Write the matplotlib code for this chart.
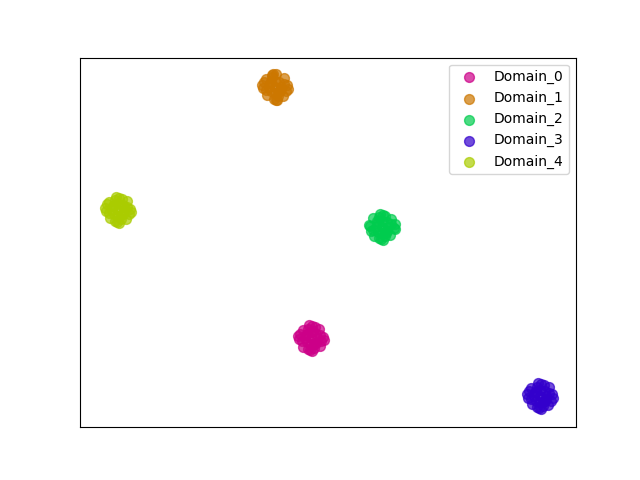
import matplotlib
matplotlib.use('Agg')
from matplotlib import pyplot as plt

labels = ['Domain_0', 'Domain_1', 'Domain_2', 'Domain_3', 'Domain_4']
colors = ['#cc0088', '#cc7700', '#00cc4e', '#3300cc', '#aacc00']

# embedding coordinates per domain
x0 = [31.1, 32.3, 29.9, 31.2, 31.0, 31.9, 30.25, 32.0, 30.3, 31.6, 30.6, 31.4, 30.7, 32.1, 30.0, 31.5, 30.8, 31.3,
      31.7, 30.5, 31.1, 31.1, 31.55, 30.65, 32.0, 30.2, 31.4, 30.8, 32.4, 29.8, 31.2, 30.9]
y0 = [14.2, 14.3, 14.1, 15.4, 13.0, 15.1, 15.0, 13.4, 13.3, 14.6, 14.5, 13.6, 13.8, 13.9, 14.6, 15.3, 13.1, 14.9,
      14.2, 14.2, 14.8, 13.6, 13.75, 14.65, 14.5, 13.9, 13.25, 15.15, 14.0, 14.4, 12.9, 15.5]
x1 = [27.5, 28.7, 26.3, 27.6, 27.4, 28.4, 26.6, 28.3, 26.7, 27.9, 27.0, 27.8, 27.1, 28.6, 26.4, 27.2, 27.7, 28.1,
      28.1, 26.9, 27.5, 27.5, 27.95, 27.05, 28.4, 26.6, 27.8, 27.2, 28.8, 26.2, 27.6, 27.3]
y1 = [39.3, 39.5, 39.2, 40.6, 38.1, 40.2, 40.1, 38.4, 38.5, 39.8, 39.7, 38.8, 38.9, 38.9, 39.8, 40.5, 38.0, 39.1,
      39.3, 39.3, 39.9, 38.7, 38.85, 39.75, 39.6, 39.0, 38.35, 40.25, 39.1, 39.5, 38.0, 40.6]
x2 = [38.2, 39.4, 37.0, 38.3, 38.1, 39.1, 37.3, 39.0, 37.4, 38.7, 37.7, 38.6, 37.8, 39.5, 37.1, 38.5, 37.9, 38.4,
      38.8, 37.6, 38.2, 38.2, 38.65, 37.75, 39.1, 37.3, 38.5, 37.9, 39.5, 36.9, 38.3, 38.0]
y2 = [25.3, 25.2, 25.4, 26.5, 24.1, 26.1, 26.2, 24.5, 24.4, 25.8, 25.9, 24.7, 24.8, 25.6, 24.9, 26.4, 24.2, 25.0,
      25.3, 25.3, 25.9, 24.7, 24.85, 25.75, 25.6, 25.0, 24.35, 26.25, 25.1, 25.5, 24.0, 26.6]
x3 = [54.0, 55.2, 52.8, 54.1, 53.9, 54.9, 53.1, 54.8, 53.2, 54.5, 53.5, 54.3, 53.6, 55.1, 52.9, 54.4, 53.7, 54.6,
      54.6, 53.4, 54.0, 54.0, 54.45, 53.55, 54.9, 53.1, 54.3, 53.7, 55.3, 52.7, 54.1, 53.8]
y3 = [8.4, 8.6, 8.2, 9.6, 7.2, 9.3, 9.2, 7.5, 7.6, 8.9, 8.8, 7.8, 7.9, 7.9, 8.9, 9.5, 7.3, 8.1,
      8.4, 8.4, 9.0, 7.8, 7.95, 8.85, 8.7, 8.1, 7.45, 9.35, 8.2, 8.6, 7.1, 9.7]
x4 = [11.8, 13.0, 10.6, 11.9, 11.7, 12.7, 10.9, 12.6, 11.0, 12.3, 11.3, 12.1, 11.4, 12.9, 10.7, 12.2, 11.5, 12.4,
      12.4, 11.2, 11.8, 11.8, 12.25, 11.35, 12.7, 10.9, 12.1, 11.5, 13.1, 10.5, 11.9, 11.6]
y4 = [27.0, 27.1, 26.9, 28.2, 25.8, 27.9, 27.8, 26.1, 26.2, 27.5, 27.4, 26.5, 26.6, 26.6, 27.6, 28.1, 25.9, 27.3,
      27.0, 27.0, 27.6, 26.4, 26.55, 27.45, 27.3, 26.7, 26.05, 27.95, 26.8, 27.2, 25.7, 28.3]

xs = [x0, x1, x2, x3, x4]
ys = [y0, y1, y2, y3, y4]

plt.figure(figsize=(6.4, 4.8), dpi=100)
for i in range(5):
    plt.scatter(xs[i], ys[i], s=50, c=colors[i], alpha=0.7, label=labels[i])
plt.xlim(8.0, 57.6)
plt.ylim(5.3, 42.2)
plt.xticks([]), plt.yticks([])
plt.legend(loc='upper right')
plt.savefig('out.png', dpi=100)
